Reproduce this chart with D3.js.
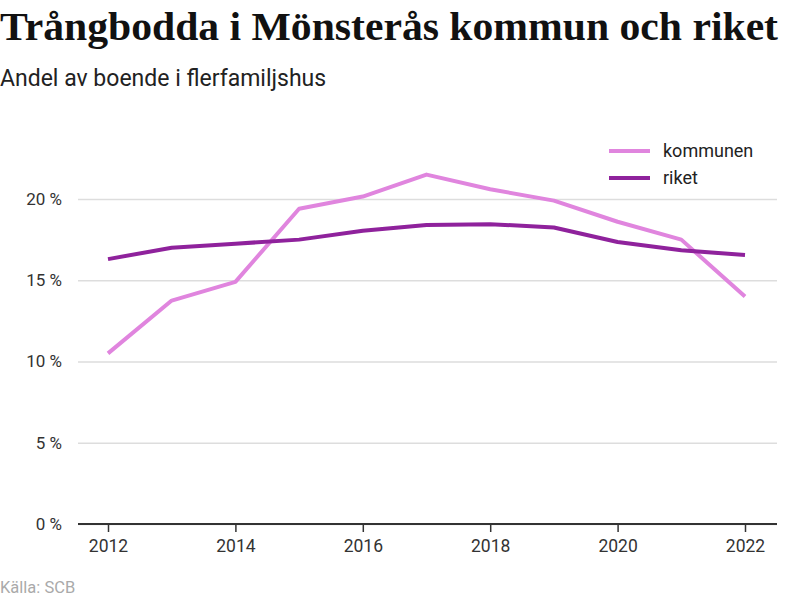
<!DOCTYPE html>
<html><head><meta charset="utf-8">
<script src="https://cdn.jsdelivr.net/npm/d3@7"></script>
<style>body{margin:0;background:#fff}svg{display:block}</style>
</head><body>
<svg id="c" width="800" height="600"></svg>
<script>
const years = [2012,2013,2014,2015,2016,2017,2018,2019,2020,2021,2022];
const kommunen = [10.5,13.75,14.9,19.4,20.15,21.5,20.6,19.9,18.6,17.5,14.0];
const riket = [16.3,17.0,17.25,17.5,18.05,18.4,18.45,18.25,17.35,16.85,16.55];
const yTicks = [0,5,10,15,20];
const xTicks = [2012,2014,2016,2018,2020,2022];
const seriesNames = ["kommunen","riket"];
const colors = ["#e085de","#8f229c"];

const svg = d3.select("#c");
const x = d3.scaleLinear().domain([2012,2022]).range([108,745]);
const y = d3.scaleLinear().domain([0,20]).range([524,199]);

const title = svg.append("text").attr("x",0).attr("y",40)
  .style("font-family","'Liberation Serif', serif").style("font-weight","bold")
  .style("font-size","39px").attr("fill","#111").text("Trångbodda i Mönsterås kommun och riket");
title.attr("textLength",778).attr("lengthAdjust","spacingAndGlyphs");

svg.append("text").attr("x",0).attr("y",86)
  .style("font-family","Roboto").style("font-size","23px").attr("fill","#222")
  .text("Andel av boende i flerfamiljshus");

const yAxis = d3.axisLeft(y).tickValues(yTicks).tickSize(-(777-78)).tickFormat(d=>d+" %").tickPadding(16);
const gy = svg.append("g").attr("transform","translate(78,0)").call(yAxis);
gy.select(".domain").remove();
gy.selectAll(".tick line").attr("stroke","#dddddd").attr("stroke-width",1.5);
gy.selectAll(".tick text").style("font-family","Roboto").style("font-size","17px").attr("fill","#333");

const xAxis = d3.axisBottom(x).tickValues(xTicks).tickFormat(d3.format("d")).tickSize(8).tickPadding(8).tickSizeOuter(0);
const gx = svg.append("g").attr("transform","translate(0,524)").call(xAxis);
gx.select(".domain").attr("d","M78,0H777").attr("stroke","#333").attr("stroke-width",2);
gx.selectAll(".tick line").attr("stroke","#333").attr("stroke-width",1.5);
gx.selectAll(".tick text").style("font-family","Roboto").style("font-size","17.5px").attr("fill","#333");

const line = d3.line().x((d,i)=>x(years[i])).y(d=>y(d));
[kommunen,riket].forEach((s,i)=>{
  svg.append("path").attr("d",line(s)).attr("fill","none").attr("stroke",colors[i])
    .attr("stroke-width",4).attr("stroke-linejoin","round");
});

seriesNames.forEach((n,i)=>{
  const yy = 151 + i*27;
  svg.append("line").attr("x1",609).attr("x2",650).attr("y1",yy).attr("y2",yy)
    .attr("stroke",colors[i]).attr("stroke-width",4);
  svg.append("text").attr("x",663).attr("y",yy+6).style("font-family","Roboto")
    .style("font-size","18px").attr("fill","#222").text(n);
});

svg.append("text").attr("x",0).attr("y",593).style("font-family","Roboto")
  .style("font-size","16.5px").attr("fill","#aaa").text("Källa: SCB");
</script>
</body></html>
